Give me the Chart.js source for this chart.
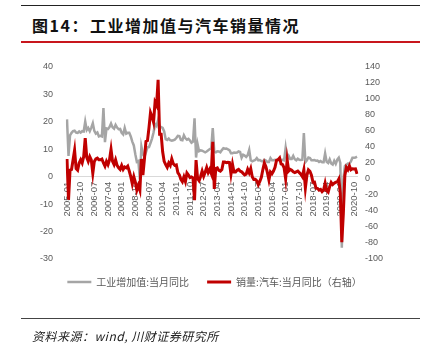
<!DOCTYPE html>
<html>
<head>
<meta charset="utf-8">
<script src="https://cdn.jsdelivr.net/npm/chart.js@4.4.1/dist/chart.umd.min.js"></script>
<style>
    body { margin: 0; background: #fff; width: 429px; height: 352px; position: relative; overflow: hidden; font-family: "Noto Sans CJK SC", sans-serif; }
    .rule { position: absolute; left: 21px; width: 399px; }
    #topLine { top: 5px; height: 1px; background: #222; }
    #redLine { top: 41px; height: 2px; background: #c8161d; }
    #bottomLine { top: 318px; height: 1px; background: #444; }
    .title { position: absolute; top: 13px; line-height: 24px; font-size: 16px; font-weight: bold; color: #111; letter-spacing: 1.5px; }
    #source { position: absolute; left: 32px; top: 329px; line-height: 14px; font-size: 12px; font-style: italic; color: #222; letter-spacing: 0.5px; }
    #chart { position: absolute; left: 0; top: 0; }
</style>
</head>
<body>
<div class="rule" id="topLine"></div>
<div class="title" style="left:32px">图14：</div>
<div class="title" style="left:90px">工业增加值与汽车销量情况</div>
<div class="rule" id="redLine"></div>
<canvas id="chart" width="429" height="352"></canvas>
<div class="rule" id="bottomLine"></div>
<div id="source">资料来源：wind, 川财证券研究所</div>

<script>
// monthly series, 2005-01 .. 2020-12 (one row per year)
const startYear = 2005;
const endYear = 2020;

// 工业增加值:当月同比 (%)
const industryYoY = [
    20.9, 7.6, 15.1, 16.0, 16.6, 16.8, 16.1, 16.0, 16.5, 16.1, 16.6, 16.5,
    20.1, 17.0, 17.8, 16.6, 17.9, 19.5, 16.7, 15.7, 16.1, 14.7, 14.9, 14.7,
    25.0, 12.6, 17.6, 17.4, 18.1, 19.4, 18.0, 17.5, 18.9, 17.9, 17.3, 17.4,
    16.0, 15.4, 17.8, 15.7, 16.0, 16.0, 14.7, 12.8, 11.4, 8.2, 5.4, 5.7,
    -1.0, 11.0, 8.3, 7.3, 8.9, 10.7, 10.8, 12.3, 13.9, 16.1, 19.2, 18.5,
    20.7, 18.0, 18.1, 17.8, 16.5, 13.7, 13.4, 13.9, 13.3, 13.1, 13.3, 13.5,
    14.1, 14.9, 14.8, 13.4, 13.3, 15.1, 14.0, 13.5, 13.8, 13.2, 12.4, 12.8,
    21.3, 7.0, 11.9, 9.3, 9.6, 9.5, 9.2, 8.9, 9.2, 9.6, 10.1, 10.3,
    17.7, 9.1, 8.9, 9.3, 9.2, 8.9, 9.7, 10.4, 10.2, 10.3, 10.0, 9.7,
    8.6, 8.6, 8.8, 8.7, 8.8, 9.2, 9.0, 6.9, 8.0, 7.7, 7.2, 7.9,
    9.8, 6.0, 5.6, 5.9, 6.1, 6.8, 6.0, 6.1, 5.7, 5.6, 6.2, 5.9,
    5.4, 5.4, 6.8, 6.0, 6.0, 6.2, 6.0, 6.3, 6.1, 6.1, 6.2, 6.0,
    10.5, 6.3, 7.6, 6.5, 6.5, 7.6, 6.4, 6.0, 6.6, 6.2, 6.1, 6.2,
    15.9, 5.3, 6.0, 7.0, 6.8, 6.0, 6.0, 6.1, 5.8, 5.9, 5.4, 5.7,
    5.3, 5.3, 8.5, 5.4, 5.0, 6.3, 4.8, 4.4, 5.8, 4.7, 6.2, 6.9,
    5.0, -25.9, -1.1, 3.9, 4.4, 4.8, 4.8, 5.6, 6.9, 6.9, 7.0, 7.3
];

// 销量:汽车:当月同比 (%), right axis
const autoSalesYoY = [
    25, -26, 11, 12, 24, 36, 13, 11, 20, 24, 20, 28,
    51, 27, 22, 28, 24, 7, 22, 25, 26, 24, 24, 25,
    20, 16, 22, 18, 24, 37, 22, 18, 24, 17, 14, 12,
    17, 12, 15, 14, 16, 10, 3, -6, 3, -4, -14, -8,
    -14, 25, 5, 25, 47, 48, 64, 83, 78, 71, 96, 92,
    124, 56, 56, 34, 22, 18, 14.5, 20, 17, 25, 19, 17,
    17.6, 8, 5.2, -0.3, -3.4, 2.6, -3.2, 7.5, 5, 1.7, 2.6, 1.1,
    -26.4, 23.6, 0.7, -2.1, 3.2, 9.8, 3.4, 8.4, 14.3, 8, 12, 7,
    46.4, -12.5, 13.2, 14.0, 10.7, 9.8, 11.8, 21.3, 21.2, 20.3, 20.9, 20.6,
    6.1, 18.4, 8.8, 8.8, 11, 12, 10, 9, 7, 5, 6, 12,
    7.6, 13, 2.9, -0.5, -0.4, -2.3, -7.1, -3.0, 2.1, 11.8, 20, 15.4,
    7.9, -1.2, 8.8, 6.6, 10.0, 14.6, 23.4, 24.2, 26.3, 18.8, 18.0, 13.8,
    0.2, 23.8, 10, 12, 11, 9, 8, 9, 10, 8, 6, 3,
    11.6, -11.1, 4.7, 11.5, 9.6, 4.8, -4.0, -3.8, -11.6, -11.7, -13.9, -13.0,
    -15.8, -13.8, -5.2, -14.6, -16.4, -9.6, -4.3, -6.9, -5.2, -4.0, -3.6, -0.1,
    -18.0, -79.1, -43.3, 4.4, 14.5, 11.6, 16.4, 11.6, 12.8, 12.5, 12.6, 6.4
];

const seriesNames = ["工业增加值:当月同比", "销量:汽车:当月同比（右轴）"];
const seriesColors = ["#a5a5a5", "#c00000"];
const labelEvery = 9;

// category labels "YYYY-MM"
const months = [];
for (let y = startYear; y <= endYear; y++) {
    for (let m = 1; m <= 12; m++) {
        months.push(y + "-" + String(m).padStart(2, "0"));
    }
}

const axisFont = { family: "Arial, 'Liberation Sans', sans-serif", size: 9 };
const axisColor = "#595959";

const ctx = document.getElementById("chart").getContext("2d");
new Chart(ctx, {
    type: "line",
    data: {
        labels: months,
        datasets: [
            {
                label: seriesNames[0],
                data: industryYoY,
                borderColor: seriesColors[0],
                backgroundColor: seriesColors[0],
                borderWidth: 2.5,
                pointRadius: 0,
                tension: 0,
                yAxisID: "y",
                order: 1
            },
            {
                label: seriesNames[1],
                data: autoSalesYoY,
                borderColor: seriesColors[1],
                backgroundColor: seriesColors[1],
                borderWidth: 3,
                pointRadius: 0,
                tension: 0,
                yAxisID: "y1",
                order: 0
            }
        ]
    },
    options: {
        responsive: false,
        animation: false,
        devicePixelRatio: 1,
        layout: { padding: { left: 0, right: 0, top: 67, bottom: 55 } },
        plugins: {
            tooltip: { enabled: false },
            legend: {
                position: "bottom",
                labels: {
                    usePointStyle: true,
                    pointStyle: "line",
                    pointStyleWidth: 24,
                    padding: 18,
                    color: axisColor,
                    font: { family: "'Noto Sans CJK SC', sans-serif", size: 10 },
                    sort: (a, b) => a.datasetIndex - b.datasetIndex
                }
            }
        },
        scales: {
            x: {
                type: "category",
                position: { y: 0 },
                offset: false,
                grid: { display: false, drawTicks: false },
                border: { display: true, color: "#d9d9d9", width: 1 },
                ticks: {
                    autoSkip: false,
                    minRotation: 90,
                    maxRotation: 90,
                    padding: 5,
                    color: axisColor,
                    font: { family: axisFont.family, size: 9.5 },
                    callback: function (value, index) {
                        return index % labelEvery === 0 ? months[index] : "";
                    }
                }
            },
            y: {
                position: "left",
                min: -30,
                max: 40,
                grid: { display: false, drawTicks: false },
                border: { display: false },
                ticks: { stepSize: 10, padding: 14, color: axisColor, font: axisFont },
                afterFit: (scale) => { scale.width = 67; }
            },
            y1: {
                position: "right",
                min: -100,
                max: 140,
                grid: { display: false, drawTicks: false },
                border: { display: false },
                ticks: { stepSize: 20, padding: 8, color: axisColor, font: axisFont },
                afterFit: (scale) => { scale.width = 72; }
            }
        }
    }
});
</script>
</body>
</html>
